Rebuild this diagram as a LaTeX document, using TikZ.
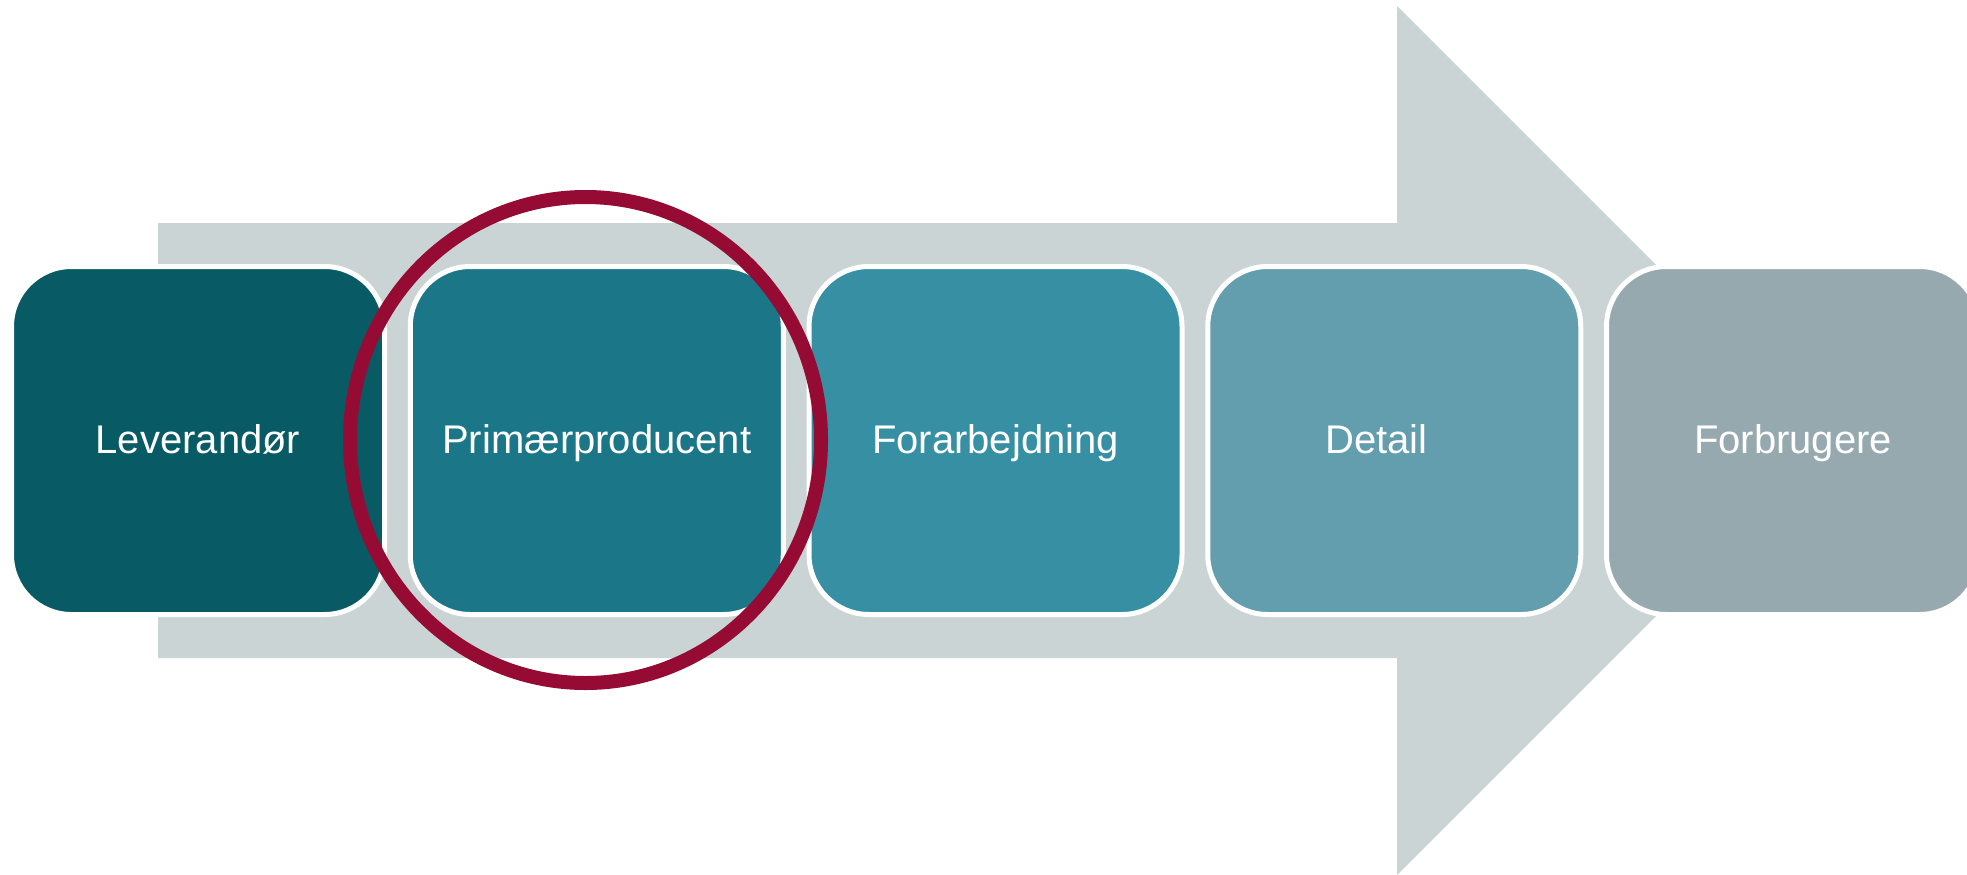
\documentclass[tikz,border=0pt]{standalone}
\usepackage{fontspec}
\setmainfont{Liberation Sans}

\definecolor{bandgray}{HTML}{CBD4D5}
\definecolor{stageone}{HTML}{085A64}
\definecolor{stagetwo}{HTML}{1B7788}
\definecolor{stagethree}{HTML}{368FA3}
\definecolor{stagefour}{HTML}{629EAD}
\definecolor{stagefive}{HTML}{96A9AE}
\definecolor{ringred}{HTML}{960B33}

\begin{document}
\begin{tikzpicture}[x=1pt,y=-1pt,
  stage/.style={draw=white,line width=5pt,rounded corners=60pt,
    minimum width=373pt,minimum height=348pt,inner sep=0pt,
    text=white,text height=30pt,text depth=5pt,
    font=\fontsize{40}{48}\selectfont}]
\useasboundingbox (0,0) rectangle (1967,875);
\clip (0,0) rectangle (1967,875);

% big arrow behind the chain
\fill[bandgray] (158,223) -- (1397,223) -- (1397,6) -- (1831.5,440.5)
  -- (1397,875) -- (1397,658) -- (158,658) -- cycle;

\node[stage,fill=stageone] (lev) at (198,440.5) {Leverandør};
\node[stage,fill=stagetwo] (prim) at (596.75,440.5) {Primærproducent};
\node[stage,fill=stagethree] (forarb) at (995.5,440.5) {Forarbejdning};
\node[stage,fill=stagefour] (detail) at (1394.25,440.5) {\hspace*{-36pt}Detail};
\node[stage,fill=stagefive] (forbr) at (1793,440.5) {Forbrugere};

% ring round the primary producer
\draw[color=ringred,line width=14pt] (585.5,440) ellipse (235.5pt and 243pt);
\end{tikzpicture}
\end{document}
